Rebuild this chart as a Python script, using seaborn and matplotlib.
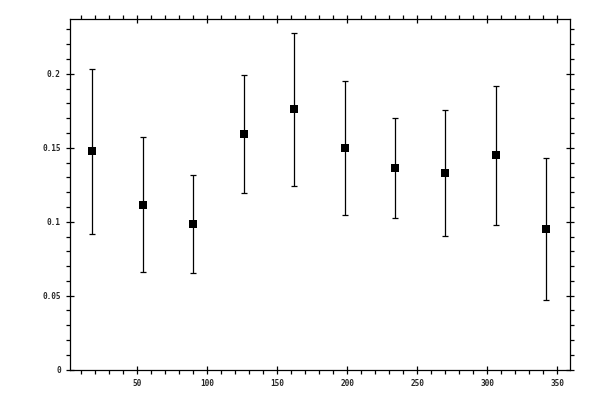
import numpy as np
import pandas as pd
import matplotlib
matplotlib.use('Agg')
import matplotlib.pyplot as plt
from matplotlib.ticker import MultipleLocator
import seaborn as sns

# data
angle = [18, 54, 90, 126, 162, 198, 234, 270, 306, 342]
value = [0.1478, 0.1111, 0.0982, 0.1590, 0.1759, 0.1496, 0.1361, 0.1327, 0.1449, 0.0949]
upper = [0.2030, 0.1572, 0.1313, 0.1993, 0.2273, 0.1951, 0.1699, 0.1753, 0.1915, 0.1428]
lower = [0.0915, 0.0658, 0.0651, 0.1192, 0.1239, 0.1043, 0.1023, 0.0901, 0.0976, 0.0469]
ytick_vals = [0, 0.05, 0.1, 0.15, 0.2]
ytick_text = ['0', '0.05', '0.1', '0.15', '0.2']

df = pd.DataFrame({'angle': angle, 'value': value, 'upper': upper, 'lower': lower})

sns.set_style('ticks')
plt.rcParams['font.family'] = ['DejaVu Sans Mono']
plt.rcParams['font.weight'] = 'bold'

fig = plt.figure(figsize=(6, 4), dpi=100)
ax = fig.add_axes([0.116, 0.0758, 0.834, 0.8767])

yerr = [df['value'] - df['lower'], df['upper'] - df['value']]
ax.errorbar(df['angle'], df['value'], yerr=yerr, fmt='none', ecolor='black',
            elinewidth=0.9, capsize=2.3, capthick=0.9, zorder=2)
sns.scatterplot(data=df, x='angle', y='value', marker='s', s=32, color='black',
                edgecolor='black', linewidth=0, ax=ax, zorder=3)

ax.set_xlim(1.7, 359)
ax.set_ylim(0, 0.237)
ax.xaxis.set_major_locator(MultipleLocator(50))
ax.xaxis.set_minor_locator(MultipleLocator(10))
ax.yaxis.set_minor_locator(MultipleLocator(0.01))
ax.set_yticks(ytick_vals)
ax.set_yticklabels(ytick_text)

ax.tick_params(which='both', top=True, right=True, labeltop=False, labelright=False,
               color='black', width=0.9)
ax.tick_params(which='major', direction='inout', length=6, labelsize=5.6, pad=3.4)
ax.tick_params(which='minor', direction='out', length=3)
for sp in ax.spines.values():
    sp.set_visible(True)
    sp.set_linewidth(0.9)
    sp.set_color('black')

ax.set_xlabel('')
ax.set_ylabel('')
ax.grid(False)

plt.savefig('out.png', dpi=100)
